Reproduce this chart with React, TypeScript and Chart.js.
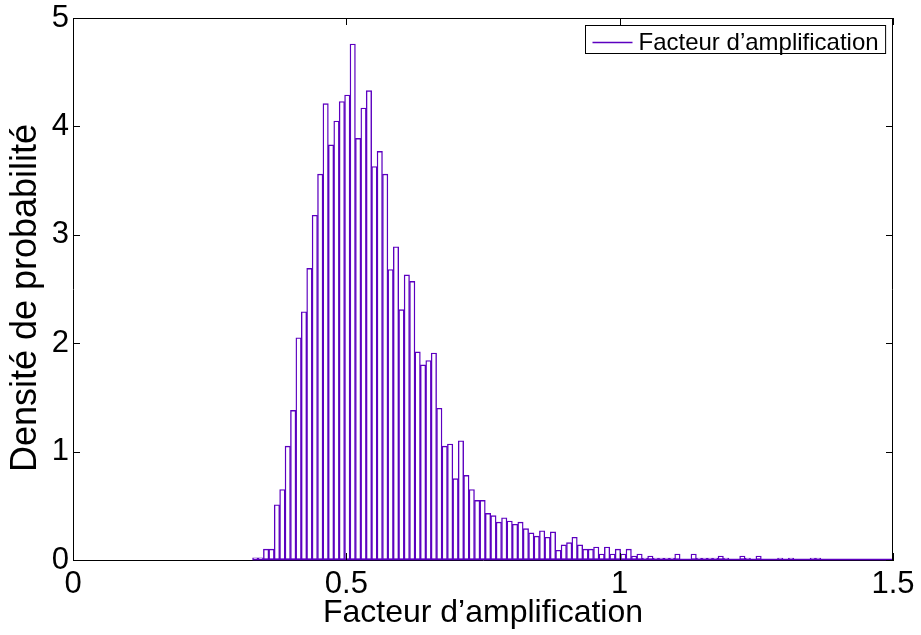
import React, { useEffect, useRef } from 'react';
import { Chart, registerables } from 'chart.js';

Chart.register(...registerables);

// Histogram: first bin left edge and bin width (x units)
const binStart = 0.3285;
const binWidth = 0.0099;

// Probability density per bin
const density = [
  0.02, 0.02, 0.10, 0.10, 0.51, 0.65, 1.05, 1.38, 2.05, 2.29,
  2.69, 3.18, 3.56, 4.21, 3.83, 4.05, 4.23, 4.29, 4.76, 3.89,
  4.17, 4.33, 3.63, 3.77, 3.56, 2.68, 2.89, 2.31, 2.63, 2.57,
  1.92, 1.80, 1.84, 1.91, 1.40, 1.05, 1.07, 0.75, 1.10, 0.78,
  0.65, 0.55, 0.55, 0.43, 0.41, 0.35, 0.39, 0.36, 0.33, 0.35,
  0.29, 0.25, 0.22, 0.27, 0.21, 0.26, 0.09, 0.14, 0.16, 0.21,
  0.14, 0.10, 0.10, 0.12, 0.055, 0.12, 0.055, 0.10, 0.055, 0.10,
  0.037, 0.055, 0.018, 0.037, 0.018, 0.018, 0.018, 0.018, 0.055, 0,
  0, 0.055, 0.018, 0.018, 0.018, 0.018, 0.037, 0.018, 0, 0,
  0.037, 0.018, 0, 0.037, 0, 0, 0, 0.018, 0, 0.018,
  0, 0, 0, 0.018, 0.018,
];

const xTicks = [0, 0.5, 1, 1.5];
const yTicks = [0, 1, 2, 3, 4, 5];
const xTickLabels = ['0', '0.5', '1', '1.5'];
const yTickLabels = ['0', '1', '2', '3', '4', '5'];

const seriesLabel = 'Facteur d\u2019amplification';
const xTitle = 'Facteur d\u2019amplification';
const yTitle = 'Densit\u00e9 de probabilit\u00e9';

const PURPLE = '#5c00c0';
const FONT = "'Liberation Sans', Arial, Helvetica, sans-serif";

const framePlugin = {
  id: 'matlabFrame',
  afterDatasetsDraw(chart: any) {
    const { ctx, chartArea, scales } = chart;
    const { left, right, top, bottom } = chartArea;
    const xs = scales.x;
    const ys = scales.y;
    ctx.save();
    // purple baseline of the histogram
    ctx.strokeStyle = PURPLE;
    ctx.lineWidth = 1.5;
    ctx.beginPath();
    ctx.moveTo(xs.getPixelForValue(binStart), Math.round(bottom) - 0.5);
    ctx.lineTo(right, Math.round(bottom) - 0.5);
    ctx.stroke();

    // box (top + right)
    ctx.strokeStyle = '#000';
    ctx.lineWidth = 1;
    ctx.beginPath();
    ctx.moveTo(Math.round(left) + 0.5, Math.round(top) + 0.5);
    ctx.lineTo(Math.round(right) - 0.5, Math.round(top) + 0.5);
    ctx.lineTo(Math.round(right) - 0.5, Math.round(bottom));
    ctx.stroke();

    // inward ticks
    const tl = 7;
    ctx.beginPath();
    xTicks.forEach((v) => {
      const px = Math.round(xs.getPixelForValue(v)) + 0.5;
      ctx.moveTo(px, bottom);
      ctx.lineTo(px, bottom - tl);
      ctx.moveTo(px, top);
      ctx.lineTo(px, top + tl);
    });
    yTicks.forEach((v) => {
      const py = Math.round(ys.getPixelForValue(v)) + 0.5;
      ctx.moveTo(left, py);
      ctx.lineTo(left + tl, py);
      ctx.moveTo(right, py);
      ctx.lineTo(right - tl, py);
    });
    ctx.stroke();

    // y axis title (rotated)
    ctx.save();
    ctx.translate(26, (top + bottom) / 2 + 9);
    ctx.rotate(-Math.PI / 2);
    ctx.font = `36px ${FONT}`;
    ctx.fillStyle = '#000';
    ctx.textAlign = 'center';
    ctx.textBaseline = 'middle';
    ctx.fillText(yTitle, 0, 0);
    ctx.restore();

    // legend
    const fs = 24;
    ctx.font = `${fs}px ${FONT}`;
    const tw = ctx.measureText(seriesLabel).width;
    const boxW = 53 + tw + 7;
    const boxH = 28;
    const bx = Math.round(right - 8 - boxW) + 0.5;
    const by = Math.round(top + 7) + 0.5;
    ctx.fillStyle = '#fff';
    ctx.fillRect(bx, by, boxW, boxH);
    ctx.strokeStyle = '#000';
    ctx.lineWidth = 1;
    ctx.strokeRect(bx, by, boxW, boxH);
    ctx.strokeStyle = PURPLE;
    ctx.lineWidth = 1.5;
    ctx.beginPath();
    ctx.moveTo(bx + 7, by + 17);
    ctx.lineTo(bx + 47, by + 17);
    ctx.stroke();
    ctx.fillStyle = '#000';
    ctx.textBaseline = 'alphabetic';
    ctx.textAlign = 'left';
    ctx.fillText(seriesLabel, bx + 53, by + 24);
    ctx.restore();
  },
};

export default function App() {
  const canvasRef = useRef<HTMLCanvasElement | null>(null);

  useEffect(() => {
    document.body.style.margin = '0';
    const canvas = canvasRef.current;
    if (!canvas) return;
    const points = density.map((v, i) => ({ x: binStart + binWidth * (i + 0.5), y: v }));
    const chart = new Chart(canvas, {
      type: 'bar',
      data: {
        datasets: [
          {
            label: seriesLabel,
            data: points as any,
            backgroundColor: '#ffffff',
            borderColor: PURPLE,
            borderWidth: 1.4,
            borderSkipped: false,
            barPercentage: 1,
            categoryPercentage: 1,
          } as any,
        ],
      },
      options: {
        animation: false,
        responsive: false,
        devicePixelRatio: 1,
        layout: { padding: { top: 18, right: 28, left: 0, bottom: 0 } },
        plugins: { legend: { display: false }, tooltip: { enabled: false } },
        scales: {
          x: {
            type: 'linear',
            min: 0,
            max: 1.5,
            offset: false,
            afterBuildTicks: (s: any) => {
              s.ticks = xTicks.map((v) => ({ value: v }));
            },
            afterFit: (s: any) => {
              s.height = 75;
              s.paddingLeft = 0;
              s.paddingRight = 0;
            },
            grid: { display: true, drawOnChartArea: false, drawTicks: false, offset: false },
            border: { display: true, color: '#000', width: 1 },
            ticks: {
              color: '#000',
              font: { family: FONT, size: 31 },
              padding: 6,
              maxRotation: 0,
              autoSkip: false,
              callback: (_v: any, i: number) => xTickLabels[i],
            },
            title: {
              display: true,
              text: xTitle,
              color: '#000',
              font: { family: FONT, size: 32 },
              padding: { top: 0, bottom: 3 },
            },
          },
          y: {
            type: 'linear',
            min: 0,
            max: 5,
            afterBuildTicks: (s: any) => {
              s.ticks = yTicks.map((v) => ({ value: v }));
            },
            afterFit: (s: any) => {
              s.width = 73;
              s.paddingTop = 0;
              s.paddingBottom = 0;
            },
            grid: { display: true, drawOnChartArea: false, drawTicks: false },
            border: { display: true, color: '#000', width: 1 },
            ticks: {
              color: '#000',
              font: { family: FONT, size: 31 },
              padding: 4,
              autoSkip: false,
              callback: (_v: any, i: number) => yTickLabels[i],
            },
            title: { display: false, text: yTitle },
          },
        },
      },
      plugins: [framePlugin],
    });
    return () => chart.destroy();
  }, []);

  return (
    <div style={{ width: 921, height: 635, background: '#fff' }}>
      <canvas ref={canvasRef} width={921} height={635} style={{ display: 'block' }} />
    </div>
  );
}
